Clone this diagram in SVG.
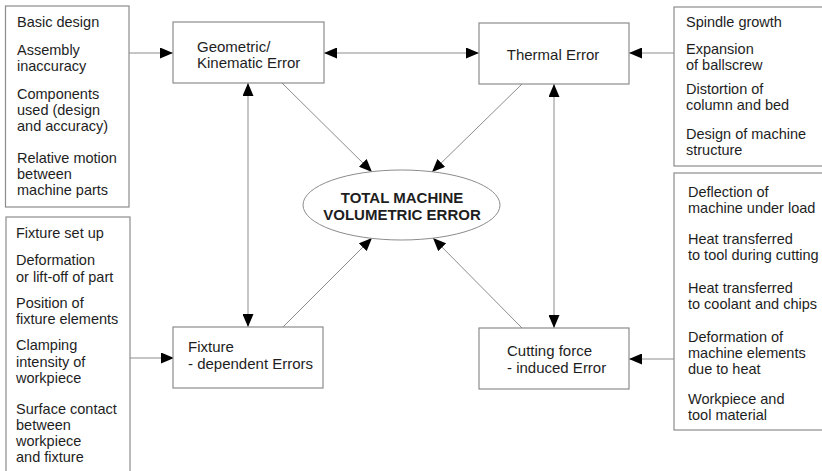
<svg xmlns="http://www.w3.org/2000/svg" width="822" height="471" viewBox="0 0 822 471">
<style>
.box{fill:#fff;stroke:#8c8c8c;stroke-width:1.2}
.t{font-family:"Liberation Sans",Arial,sans-serif;font-size:14.5px;fill:#1e1e1e}
.n{font-family:"Liberation Sans",Arial,sans-serif;font-size:15px;fill:#1e1e1e}
.b{font-family:"Liberation Sans",Arial,sans-serif;font-size:15px;font-weight:bold;fill:#1e1e1e}
.c{fill:none;stroke:#8c8c8c;stroke-width:1}
</style>
<defs>
<marker id="ah" markerUnits="userSpaceOnUse" markerWidth="13" markerHeight="11" refX="13" refY="5.5" orient="auto-start-reverse">
<path d="M0,0 L13,5.5 L0,11 z" fill="#000"/>
</marker>
</defs>
<rect width="822" height="471" fill="#fff"/>
<g id="connectors">
<line class="c" x1="129" y1="53" x2="173" y2="53" marker-end="url(#ah)"/>
<line class="c" x1="324" y1="53" x2="479" y2="53" marker-start="url(#ah)" marker-end="url(#ah)"/>
<line class="c" x1="674" y1="53" x2="629" y2="53" marker-end="url(#ah)"/>
<line class="c" x1="248" y1="83" x2="248" y2="327" marker-start="url(#ah)" marker-end="url(#ah)"/>
<line class="c" x1="554" y1="84" x2="554" y2="328" marker-start="url(#ah)" marker-end="url(#ah)"/>
<line class="c" x1="282" y1="83" x2="372" y2="172" marker-end="url(#ah)"/>
<line class="c" x1="522" y1="84" x2="432" y2="172" marker-end="url(#ah)"/>
<line class="c" x1="283" y1="327" x2="372" y2="238" marker-end="url(#ah)"/>
<line class="c" x1="522" y1="328" x2="433" y2="238" marker-end="url(#ah)"/>
<line class="c" x1="130" y1="358" x2="174" y2="358" marker-end="url(#ah)"/>
<line class="c" x1="674" y1="359" x2="629" y2="359" marker-end="url(#ah)"/>
</g>
<g id="geometric">
<rect class="box" x="173" y="22" width="151" height="61"/>
<text class="n" x="197" y="52">Geometric/</text>
<text class="n" x="197" y="68">Kinematic Error</text>
</g>
<g id="thermal">
<rect class="box" x="479" y="23" width="150" height="61"/>
<text class="n" x="553" y="60" text-anchor="middle">Thermal Error</text>
</g>
<g id="fixture">
<rect class="box" x="173" y="327" width="150" height="61"/>
<text class="n" x="188" y="352">Fixture</text>
<text class="n" x="188" y="369">- dependent Errors</text>
</g>
<g id="cutting">
<rect class="box" x="479" y="328" width="150" height="61"/>
<text class="n" x="507" y="356">Cutting force</text>
<text class="n" x="507" y="373">- induced Error</text>
</g>
<g id="total">
<ellipse cx="401.5" cy="205" rx="98.5" ry="35" fill="#fff" stroke="#8c8c8c" stroke-width="1"/>
<text class="b" x="402" y="203" text-anchor="middle">TOTAL MACHINE</text>
<text class="b" x="402" y="220" text-anchor="middle">VOLUMETRIC ERROR</text>
</g>
<g id="geometric-causes">
<rect class="box" x="5.5" y="6" width="123.5" height="201"/>
<text class="t" x="17" y="27">Basic design</text>
<text class="t" x="17" y="55">Assembly</text>
<text class="t" x="17" y="71">inaccuracy</text>
<text class="t" x="17" y="99">Components</text>
<text class="t" x="17" y="115">used (design</text>
<text class="t" x="17" y="131">and accuracy)</text>
<text class="t" x="17" y="163">Relative motion</text>
<text class="t" x="17" y="179">between</text>
<text class="t" x="17" y="195">machine parts</text>
</g>
<g id="fixture-causes">
<rect class="box" x="6" y="217" width="124" height="270"/>
<text class="t" x="16" y="238">Fixture set up</text>
<text class="t" x="16" y="265">Deformation</text>
<text class="t" x="16" y="282">or lift-off of part</text>
<text class="t" x="16" y="308">Position of</text>
<text class="t" x="16" y="324">fixture elements</text>
<text class="t" x="16" y="350">Clamping</text>
<text class="t" x="16" y="367">intensity of</text>
<text class="t" x="16" y="383">workpiece</text>
<text class="t" x="16" y="414">Surface contact</text>
<text class="t" x="16" y="430">between</text>
<text class="t" x="16" y="446">workpiece</text>
<text class="t" x="16" y="462">and fixture</text>
</g>
<g id="thermal-causes">
<rect class="box" x="674" y="7" width="170" height="159"/>
<text class="t" x="686" y="27">Spindle growth</text>
<text class="t" x="686" y="54">Expansion</text>
<text class="t" x="686" y="70">of ballscrew</text>
<text class="t" x="686" y="94">Distortion of</text>
<text class="t" x="686" y="110">column and bed</text>
<text class="t" x="686" y="139">Design of machine</text>
<text class="t" x="686" y="155">structure</text>
</g>
<g id="cutting-causes">
<rect class="box" x="674" y="173" width="170" height="257"/>
<text class="t" x="688" y="197">Deflection of</text>
<text class="t" x="688" y="213">machine under load</text>
<text class="t" x="688" y="244">Heat transferred</text>
<text class="t" x="688" y="260">to tool during cutting</text>
<text class="t" x="688" y="293">Heat transferred</text>
<text class="t" x="688" y="309">to coolant and chips</text>
<text class="t" x="688" y="342">Deformation of</text>
<text class="t" x="688" y="358">machine elements</text>
<text class="t" x="688" y="374">due to heat</text>
<text class="t" x="688" y="404">Workpiece and</text>
<text class="t" x="688" y="420">tool material</text>
</g>
</svg>
